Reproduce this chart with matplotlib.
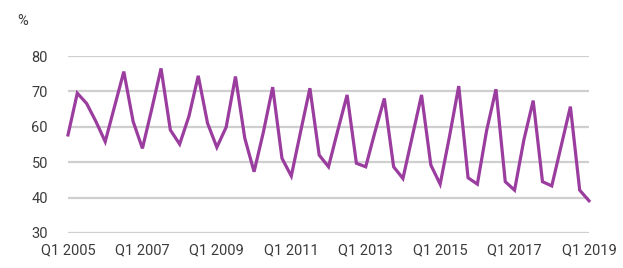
import matplotlib
matplotlib.use("Agg")
import matplotlib.pyplot as plt
import numpy as np

# Quarterly values, Q1 2005 .. Q1 2019 (percent)
values = [
    57.7, 69.5, 66.6, 61.5,   # 2005
    55.8, 65.7, 75.6, 61.5,   # 2006
    53.9, 65.0, 76.5, 59.1,   # 2007
    55.1, 63.0, 74.4, 61.0,   # 2008
    54.2, 59.9, 74.2, 56.8,   # 2009
    47.3, 58.5, 71.2, 51.1,   # 2010
    46.1, 58.6, 70.9, 52.0,   # 2011
    48.7, 59.0, 69.0, 49.7,   # 2012
    48.7, 58.6, 68.0, 48.7,   # 2013
    45.4, 57.2, 69.0, 49.2,   # 2014
    43.8, 57.2, 71.5, 45.6,   # 2015
    43.8, 59.0, 70.6, 44.5,   # 2016
    42.1, 56.3, 67.4, 44.5,   # 2017
    43.3, 54.5, 65.7, 42.1,   # 2018
    39.1,                     # 2019 Q1
]
tick_labels = ["Q1 2005", "Q1 2007", "Q1 2009", "Q1 2011",
               "Q1 2013", "Q1 2015", "Q1 2017", "Q1 2019"]
y_ticks = [30, 40, 50, 60, 70, 80]

plt.rcParams['font.family'] = ['Roboto', 'DejaVu Sans']
text_color = '#3c3c3c'
line_color = '#9a3d9f'

fig = plt.figure(figsize=(6.23, 2.68), dpi=100)
ax = fig.add_axes([68/623, 1-233/268, (589-68)/623, (233-56)/268])

x = np.arange(len(values))
ax.plot(x, values, color=line_color, lw=2.3, solid_joinstyle='miter', clip_on=False, zorder=3)

ax.set_xlim(0, len(values)-1)
ax.set_ylim(30, 80)
ax.set_yticks(y_ticks)
ax.set_yticklabels([str(v) for v in y_ticks])
ax.set_xticks(np.arange(0, len(values), 8))
ax.set_xticklabels(tick_labels)

ax.grid(axis='y', color='#cfcfcf', lw=1.6)
ax.set_axisbelow(True)
for s in ax.spines.values():
    s.set_visible(False)
ax.tick_params(axis='both', length=0, labelsize=10.5, colors=text_color)
ax.tick_params(axis='y', pad=14.4)
ax.tick_params(axis='x', pad=7.2)

fig.text(23/623, 1-21/268, '%', ha='center', va='center', fontsize=10.5, color=text_color)

fig.savefig('out.png', dpi=100, facecolor='white')
